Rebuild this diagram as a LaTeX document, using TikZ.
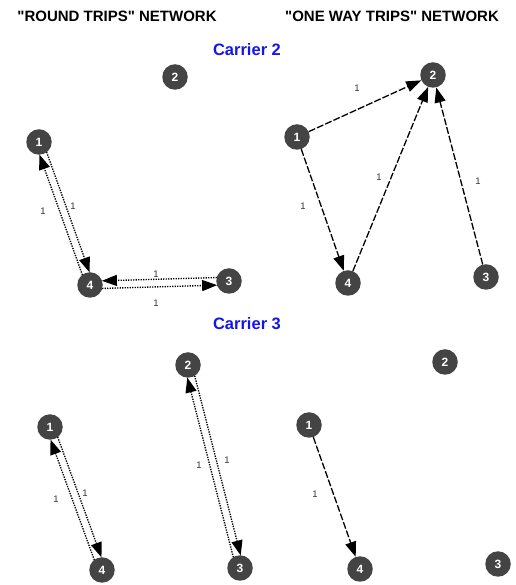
\documentclass[tikz,border=0pt]{standalone}
\usepackage{fontspec}
\setmainfont{Liberation Sans}[Ligatures=TeXOff]
\usetikzlibrary{arrows.meta,calc}
\definecolor{nodegray}{RGB}{68,68,68}
\definecolor{carrierblue}{RGB}{20,20,235}
\tikzset{
  city/.style={circle, fill=nodegray, minimum size=25.5pt, inner sep=0pt, text=white,
    font=\bfseries\fontsize{12}{12}\selectfont},
  tiphead/.style={-{Triangle[length=15pt,width=11pt]}},
  rtline/.style={tiphead, dash pattern=on 1.3pt off 1.2pt, line width=1.35pt, shorten <=12pt, shorten >=12pt},
  owline/.style={tiphead, dash pattern=on 7pt off 2pt, line width=1.3pt},
  lab/.style={font=\fontsize{9.5}{9.5}\selectfont, text=black!80, inner sep=0pt},
  titletext/.style={font=\bfseries\fontsize{15}{15}\selectfont, inner sep=0pt},
  carrier/.style={font=\bfseries\fontsize{16.5}{16.5}\selectfont, text=carrierblue, inner sep=0pt},
}
\newcommand\rtedge[3]{%
  \path ($(#1.center)!3.8pt!#3:(#2.center)$) coordinate (rtA)
        ($(#2.center)+(rtA)-(#1.center)$) coordinate (rtB);
  \draw[rtline] (rtA) -- (rtB);}
\begin{document}
\begin{tikzpicture}[x=1pt,y=1pt]
\useasboundingbox (0,0) rectangle (515,585);
% titles
\node[titletext] (t1) at (117,568.5) {"ROUND TRIPS" NETWORK};
\node[titletext] (t2) at (392,568.5) {"ONE WAY TRIPS" NETWORK};
\node[carrier] (c2t) at (247,535) {Carrier 2};
\node[carrier] (c3t) at (247,261) {Carrier 3};
% Carrier 2 round trips
\node[city] (a2) at (175,508) {2};
\node[city] (a1) at (39,443) {1};
\node[city] (a4) at (90,300) {4};
\node[city] (a3) at (229,304) {3};
\rtedge{a1}{a4}{90}
\rtedge{a4}{a1}{90}
\rtedge{a3}{a4}{-90}
\rtedge{a4}{a3}{-90}
\node[lab] (la1) at (43,374) {1};
\node[lab] (la2) at (73,379) {1};
\node[lab] (la3) at (156,311) {1};
\node[lab] (la4) at (156,282) {1};
% Carrier 2 one way
\node[city] (b2) at (433,510) {2};
\node[city] (b1) at (297,448) {1};
\node[city] (b4) at (348,302) {4};
\node[city] (b3) at (486,308) {3};
\draw[owline] (b1) -- (b2);
\draw[owline] (b1) -- (b4);
\draw[owline] (b4) -- (b2);
\draw[owline] (b3) -- (b2);
\node[lab] (lb1) at (357,497) {1};
\node[lab] (lb2) at (303,379) {1};
\node[lab] (lb3) at (379,408) {1};
\node[lab] (lb4) at (478,404) {1};
% Carrier 3 round trips
\node[city] (c1) at (50,158) {1};
\node[city] (c4) at (102,15) {4};
\node[city] (c2) at (188,220) {2};
\node[city] (c3) at (240,17) {3};
\rtedge{c1}{c4}{90}
\rtedge{c4}{c1}{90}
\rtedge{c2}{c3}{90}
\rtedge{c3}{c2}{90}
\node[lab] (lc1) at (56,86) {1};
\node[lab] (lc2) at (85,92) {1};
\node[lab] (lc3) at (199,120) {1};
\node[lab] (lc4) at (227,125) {1};
% Carrier 3 one way
\node[city] (d2) at (445,223) {2};
\node[city] (d1) at (309,160) {1};
\node[city] (d4) at (360,16) {4};
\node[city] (d3) at (498,21) {3};
\draw[owline] (d1) -- (d4);
\node[lab] (ld1) at (315,91) {1};
\end{tikzpicture}
\end{document}
